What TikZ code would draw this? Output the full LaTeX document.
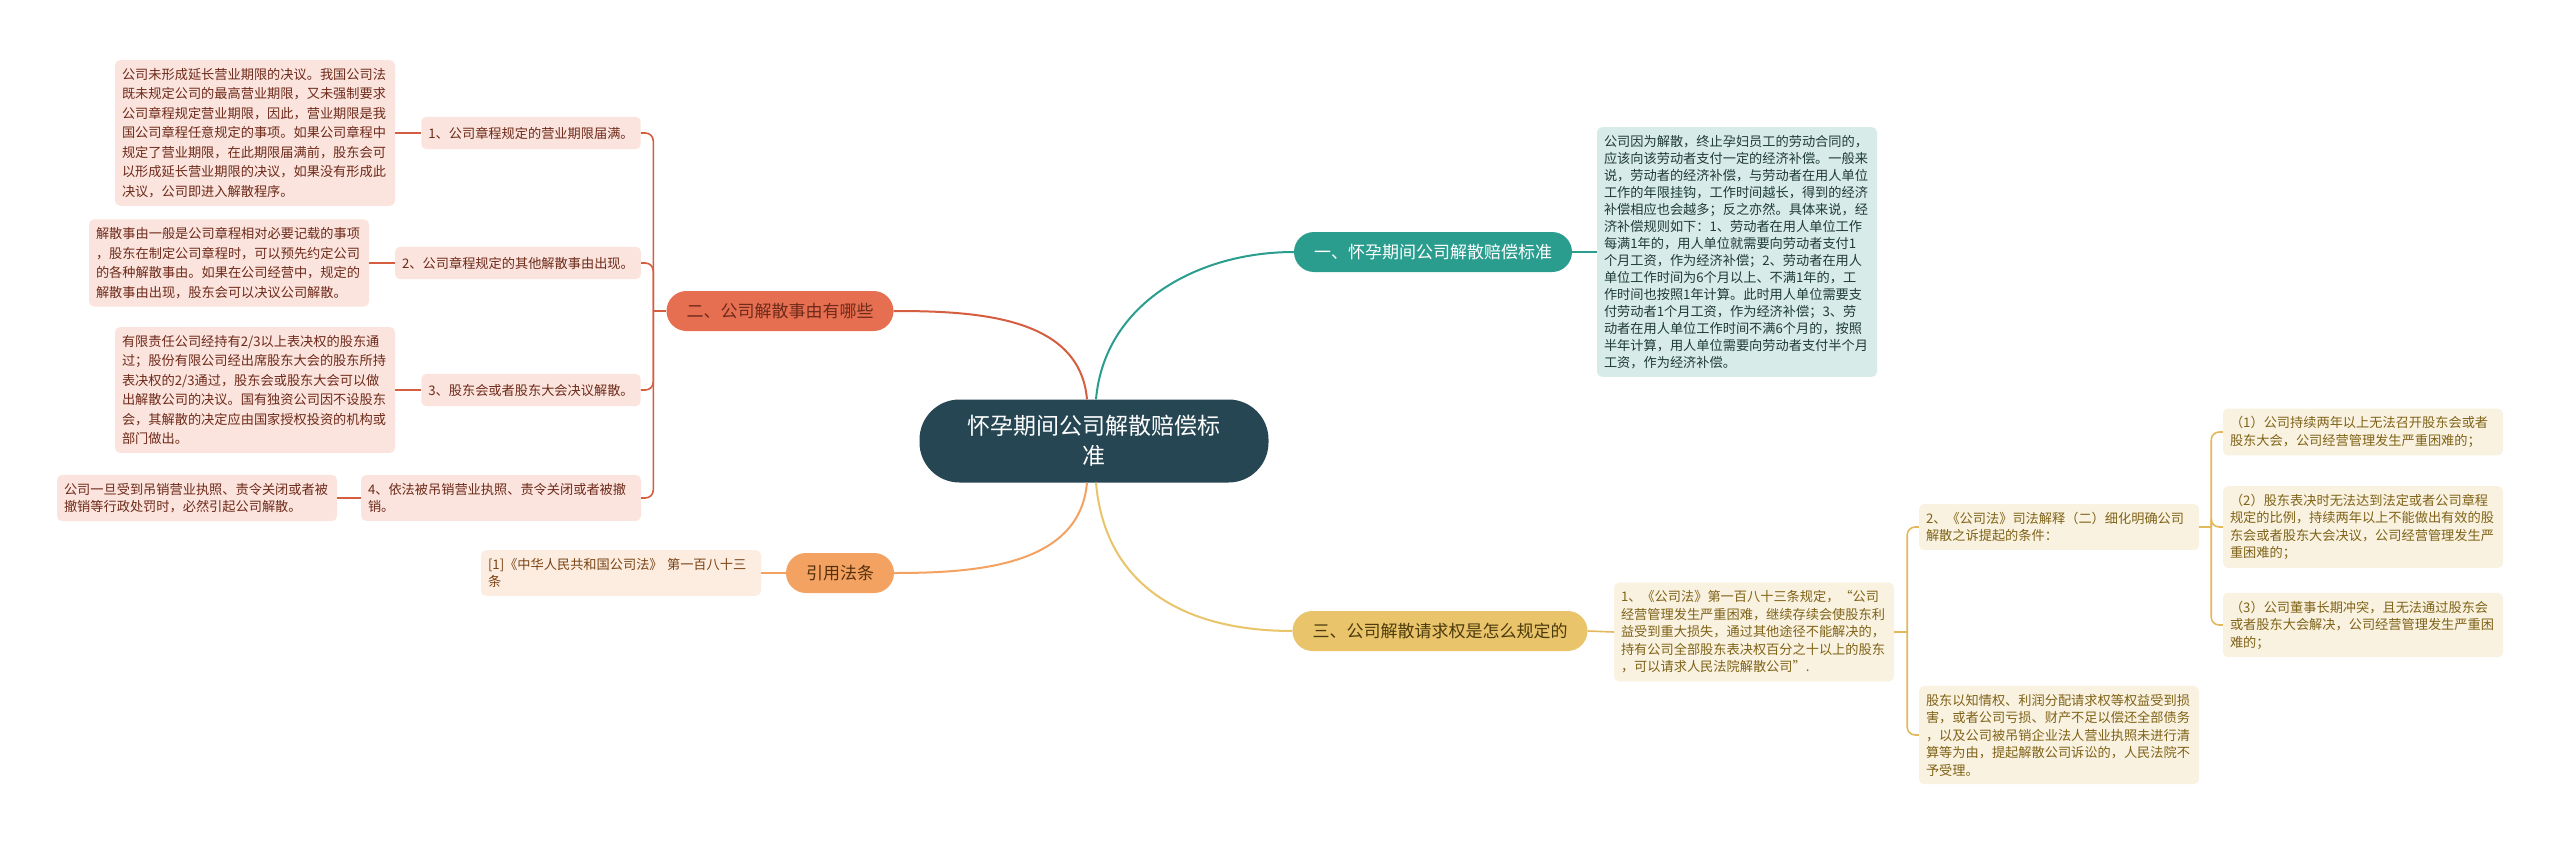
\documentclass[tikz,border=0pt]{standalone}
\usepackage{fontspec}
\setmainfont{Noto Sans CJK SC}
\definecolor{rootfill}{HTML}{264653}
\definecolor{yicol}{HTML}{2A9D8F}
\definecolor{yileaf}{HTML}{D7EBE8}
\definecolor{yitext}{HTML}{1F3B38}
\definecolor{ercol}{HTML}{E76F51}
\definecolor{erlinec}{HTML}{D65E40}
\definecolor{erleaf}{HTML}{FBE4DD}
\definecolor{ertext}{HTML}{6E2A1A}
\definecolor{yycol}{HTML}{F4A261}
\definecolor{yyleaf}{HTML}{FDEDE0}
\definecolor{yytext}{HTML}{7A4416}
\definecolor{sancol}{HTML}{E9C46A}
\definecolor{sanlinec}{HTML}{E2B85A}
\definecolor{sanleaf}{HTML}{FAF2E0}
\definecolor{santext}{HTML}{7F6318}
\newcommand\rootfont{\fontsize{23}{30}\selectfont}
\newcommand\branchfont{\fontsize{17}{20}\selectfont}
\newcommand\leaffont{\fontsize{13.2}{17.5}\selectfont}
\newcommand\erfont{\fontsize{13.2}{19.5}\selectfont}
\newcommand\yifont{\fontsize{13.2}{17}\selectfont}
\tikzset{
  leaf/.style={rounded corners=5pt, inner xsep=7pt, inner ysep=8pt,
    text width=266pt, align=left, font=\leaffont},
  tag/.style={rounded corners=5pt, inner xsep=7pt, inner ysep=10pt, font=\leaffont},
  branch/.style={rounded corners=20pt, minimum height=40pt, inner xsep=20pt,
    inner ysep=0pt, font=\branchfont},
  mainline/.style={line width=2pt},
  subline/.style={line width=1.6pt},
}
\begin{document}
\begin{tikzpicture}[x=1pt,y=1pt]
  % 背景
  \fill[white] (0,0) rectangle (2560,-843);
  \useasboundingbox (0,0) rectangle (2560,-843);
  % 中心主题
  \node[fill=rootfill, text=white, rounded corners=40pt, minimum width=349pt,
    minimum height=83pt, align=center, font=\rootfont] (root) at (1094,-441)
    {怀孕期间公司解散赔偿标\\准};
  % 一、赔偿标准
  \node[branch, fill=yicol, text=white] (yi) at (1433,-252) {一、怀孕期间公司解散赔偿标准};
  \node[leaf, fill=yileaf, text=yitext, font=\yifont] (yid) at (1737,-252)
    {公司因为解散，终止孕妇员工的劳动合同的，\\
     应该向该劳动者支付一定的经济补偿。一般来\\
     说，劳动者的经济补偿，与劳动者在用人单位\\
     工作的年限挂钩，工作时间越长，得到的经济\\
     补偿相应也会越多；反之亦然。具体来说，经\\
     济补偿规则如下：1、劳动者在用人单位工作\\
     每满1年的，用人单位就需要向劳动者支付1\\
     个月工资，作为经济补偿；2、劳动者在用人\\
     单位工作时间为6个月以上、不满1年的，工\\
     作时间也按照1年计算。此时用人单位需要支\\
     付劳动者1个月工资，作为经济补偿；3、劳\\
     动者在用人单位工作时间不满6个月的，按照\\
     半年计算，用人单位需要向劳动者支付半个月\\
     工资，作为经济补偿。};
  % 二、解散事由
  \node[branch, fill=ercol, text=ertext] (er) at (780,-311) {二、公司解散事由有哪些};
  \node[tag, fill=erleaf, text=ertext] (a1) at (531,-133) {1、公司章程规定的营业期限届满。};
  \node[leaf, fill=erleaf, text=ertext, font=\erfont] (a1d) at (255,-133)
    {公司未形成延长营业期限的决议。我国公司法\\
     既未规定公司的最高营业期限，又未强制要求\\
     公司章程规定营业期限，因此，营业期限是我\\
     国公司章程任意规定的事项。如果公司章程中\\
     规定了营业期限，在此期限届满前，股东会可\\
     以形成延长营业期限的决议，如果没有形成此\\
     决议，公司即进入解散程序。};
  \node[tag, fill=erleaf, text=ertext] (a2) at (518,-263) {2、公司章程规定的其他解散事由出现。};
  \node[leaf, fill=erleaf, text=ertext, font=\erfont] (a2d) at (229,-263)
    {解散事由一般是公司章程相对必要记载的事项\\
     ，股东在制定公司章程时，可以预先约定公司\\
     的各种解散事由。如果在公司经营中，规定的\\
     解散事由出现，股东会可以决议公司解散。};
  \node[tag, fill=erleaf, text=ertext] (a3) at (531,-390) {3、股东会或者股东大会决议解散。};
  \node[leaf, fill=erleaf, text=ertext, font=\erfont] (a3d) at (255,-390)
    {有限责任公司经持有2/3以上表决权的股东通\\
     过；股份有限公司经出席股东大会的股东所持\\
     表决权的2/3通过，股东会或股东大会可以做\\
     出解散公司的决议。国有独资公司因不设股东\\
     会，其解散的决定应由国家授权投资的机构或\\
     部门做出。};
  \node[leaf, fill=erleaf, text=ertext] (a4) at (501,-498)
    {4、依法被吊销营业执照、责令关闭或者被撤\\销。};
  \node[leaf, fill=erleaf, text=ertext] (a4d) at (197,-498)
    {公司一旦受到吊销营业执照、责令关闭或者被\\
     撤销等行政处罚时，必然引起公司解散。};
  % 引用法条
  \node[branch, fill=yycol, text=yytext!70!black] (yy) at (840,-573) {引用法条};
  \node[leaf, fill=yyleaf, text=yytext] (cite) at (621,-573)
    {[1]《中华人民共和国公司法》 第一百八十三\\条};
  % 三、解散请求权
  \node[branch, fill=sancol, text=santext!60!black] (san) at (1440,-631) {三、公司解散请求权是怎么规定的};
  \node[leaf, fill=sanleaf, text=santext] (c1) at (1754,-632)
    {1、《公司法》第一百八十三条规定，“公司\\
     经营管理发生严重困难，继续存续会使股东利\\
     益受到重大损失，通过其他途径不能解决的，\\
     持有公司全部股东表决权百分之十以上的股东\\
     ，可以请求人民法院解散公司”.};
  \node[leaf, fill=sanleaf, text=santext] (c2) at (2059,-527)
    {2、《公司法》司法解释（二）细化明确公司\\
     解散之诉提起的条件：};
  \node[leaf, fill=sanleaf, text=santext] (c3) at (2059,-735)
    {股东以知情权、利润分配请求权等权益受到损\\
     害，或者公司亏损、财产不足以偿还全部债务\\
     ，以及公司被吊销企业法人营业执照未进行清\\
     算等为由，提起解散公司诉讼的，人民法院不\\
     予受理。};
  \node[leaf, fill=sanleaf, text=santext] (d1) at (2363,-432)
    {（1）公司持续两年以上无法召开股东会或者\\
     股东大会，公司经营管理发生严重困难的；};
  \node[leaf, fill=sanleaf, text=santext] (d2) at (2363,-527)
    {（2）股东表决时无法达到法定或者公司章程\\
     规定的比例，持续两年以上不能做出有效的股\\
     东会或者股东大会决议，公司经营管理发生严\\
     重困难的；};
  \node[leaf, fill=sanleaf, text=santext] (d3) at (2363,-625)
    {（3）公司董事长期冲突，且无法通过股东会\\
     或者股东大会解决，公司经营管理发生严重困\\
     难的；};
  % 主干连线
  \draw[mainline, yicol] ([xshift=2pt]root.north) to[out=85,in=180] (yi.west);
  \draw[mainline, erlinec] ([xshift=-7pt]root.north) to[out=95,in=0] (er.east);
  \draw[mainline, yycol] ([xshift=-7pt]root.south) to[out=-95,in=0] (yy.east);
  \draw[mainline, sancol] ([xshift=2pt]root.south) to[out=-85,in=180,looseness=1.1] (san.west);
  % 分支连线
  \draw[subline, yicol] (yi.east) -- (yid.west);
  \draw[subline, erlinec] (er.west) -- ++(-13,0) coordinate (erj);
  \foreach \n in {a1,a2,a3,a4}
    \draw[subline, erlinec, rounded corners=8pt] (erj) |- (\n.east);
  \foreach \n in {a1,a2,a3,a4}
    \draw[subline, erlinec] (\n d.east) -- (\n.west);
  \draw[subline, yycol] (yy.west) -- (cite.east);
  \draw[subline, sanlinec] (san.east) -- (c1.west);
  \draw[subline, sanlinec] (c1.east) -- ++(13,0) coordinate (cj);
  \foreach \n in {c2,c3}
    \draw[subline, sanlinec, rounded corners=8pt] (cj) |- (\n.west);
  \draw[subline, sanlinec] (c2.east) -- ++(12,0) coordinate (dj);
  \foreach \n in {d1,d2,d3}
    \draw[subline, sanlinec, rounded corners=8pt] (dj) |- (\n.west);
\end{tikzpicture}
\end{document}
